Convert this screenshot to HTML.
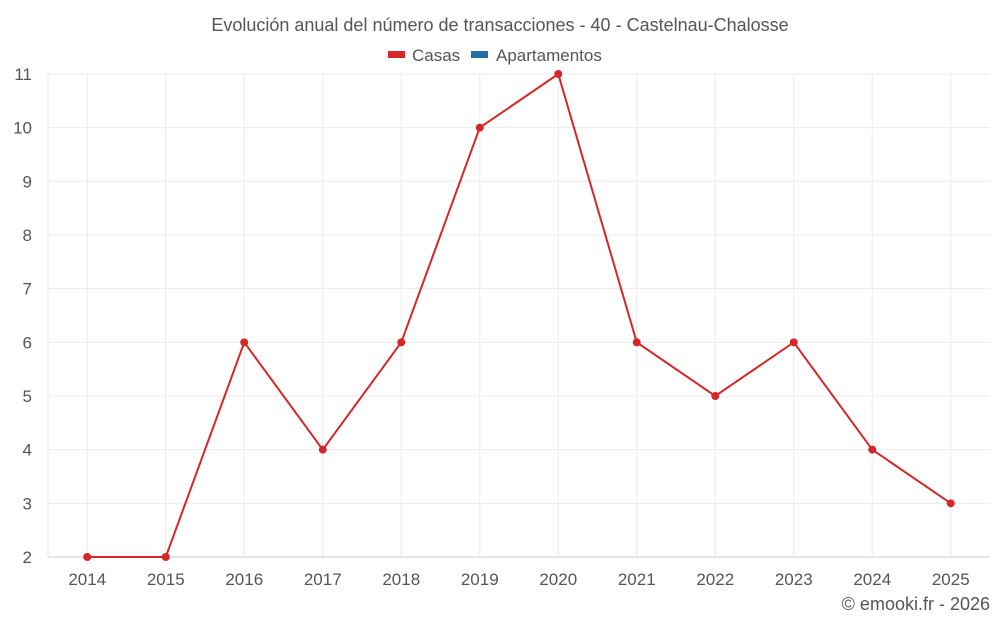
<!DOCTYPE html>
<html><head><meta charset="utf-8"><style>
body{margin:0;background:#fff;font-family:"Liberation Sans",sans-serif;}
svg text{font-family:"Liberation Sans",sans-serif;fill:#555;}
</style></head><body>
<svg width="1000" height="625">
<text x="500" y="31" text-anchor="middle" font-size="18">Evolución anual del número de transacciones - 40 - Castelnau-Chalosse</text>
<g>
<rect x="388" y="51" width="17" height="7" fill="#d62728"/>
<text x="412" y="61" font-size="17">Casas</text>
<rect x="471" y="51" width="17" height="7" fill="#1f6fa8"/>
<text x="496" y="61" font-size="17">Apartamentos</text>
</g>
<g id="grid"></g>
<g id="axes"></g>
<g id="series"></g>
<text x="990" y="610" text-anchor="end" font-size="18">© emooki.fr - 2026</text>
</svg>
<script>
const years=["2014","2015","2016","2017","2018","2019","2020","2021","2022","2023","2024","2025"];
const casas=[2,2,6,4,6,10,11,6,5,6,4,3];
const yTicks=[2,3,4,5,6,7,8,9,10,11];
const L=48,R=990,T=74,B=557,yMin=2,yMax=11;
const bw=(R-L)/years.length;
const xs=i=>L+bw*(i+0.5);
const ys=v=>B-(v-yMin)/(yMax-yMin)*(B-T);
const NS="http://www.w3.org/2000/svg";
function mk(t,a,p){const e=document.createElementNS(NS,t);for(const k in a)e.setAttribute(k,a[k]);p.appendChild(e);return e;}
const g=document.getElementById('grid'),ax=document.getElementById('axes'),s=document.getElementById('series');
yTicks.forEach(v=>{const l=mk('line',{x1:L,x2:R,y1:ys(v),y2:ys(v),stroke:'#ebebeb'},g);


const t=mk('text',{x:32,y:ys(v)+6,'text-anchor':'end','font-size':17},ax);t.textContent=v;

});
const l0=mk('line',{x1:L,x2:L,y1:T,y2:B,stroke:'#ebebeb'},g);


years.forEach((y,i)=>{const l=mk('line',{x1:xs(i),x2:xs(i),y1:T,y2:B,stroke:'#ebebeb'},g);


const t=mk('text',{x:xs(i),y:585,'text-anchor':'middle','font-size':17},ax);t.textContent=y;

});
const xl=mk('line',{x1:L,x2:R,y1:B,y2:B,stroke:'#ccc'},ax);


const p=mk('polyline',{points:casas.map((v,i)=>xs(i)+','+ys(v)).join(' '),fill:'none',stroke:'#d62728','stroke-width':2},s);


casas.forEach((v,i)=>{const c=mk('circle',{cx:xs(i),cy:ys(v),r:4,fill:'#d62728'},s);

});
</script>
</body></html>
